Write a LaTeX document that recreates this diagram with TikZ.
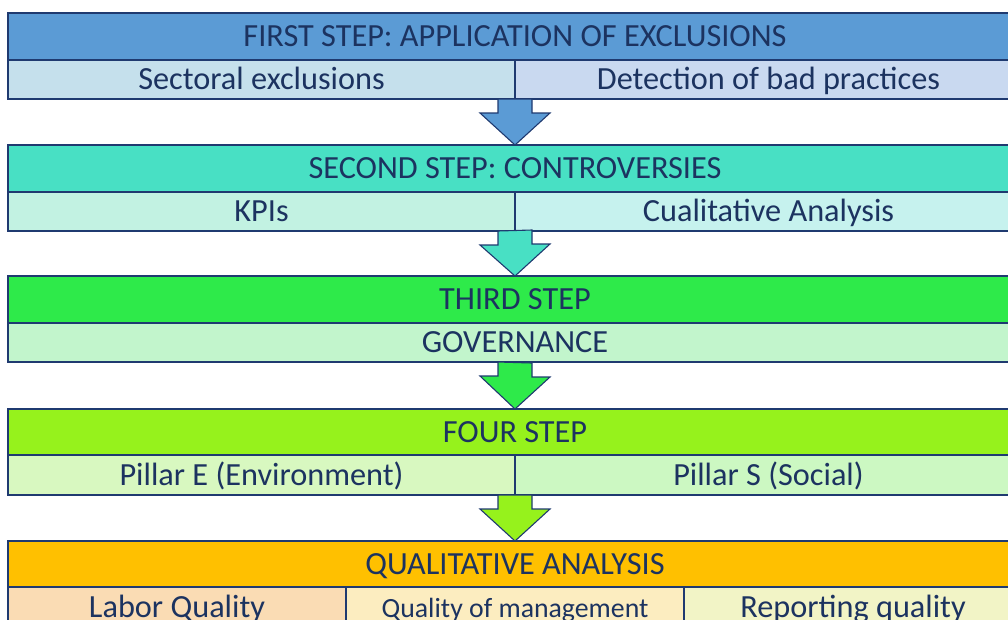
\documentclass[tikz,border=0pt]{standalone}
\usepackage{fontspec}
\setmainfont{Carlito}
\usepackage{tikz}
\usetikzlibrary{positioning, calc}
\definecolor{ink}{HTML}{1C3360}
\definecolor{edge}{HTML}{1F3A70}
\definecolor{blueH}{HTML}{5B9BD5}
\definecolor{blueL}{HTML}{C5E0EC}
\definecolor{blueR}{HTML}{C9D9F0}
\definecolor{turqH}{HTML}{48E0C4}
\definecolor{turqL}{HTML}{C2F2E2}
\definecolor{turqR}{HTML}{C6F2EE}
\definecolor{greenH}{HTML}{2EEA4A}
\definecolor{greenL}{HTML}{C2F5CC}
\definecolor{limeH}{HTML}{96F21C}
\definecolor{limeL}{HTML}{D8F8C0}
\definecolor{limeR}{HTML}{CCF8C2}
\definecolor{goldH}{HTML}{FFC000}
\definecolor{goldL}{HTML}{FADCB4}
\definecolor{goldM}{HTML}{FCEDC0}
\definecolor{goldR}{HTML}{F2F4C6}
\tikzset{
  cell/.style={draw=edge, line width=1.1pt, text=ink, inner sep=0pt, outer sep=0pt, anchor=north west,
    font=\fontsize{32.3}{36}\selectfont, text height=20pt, text depth=0pt},
  header/.style={cell, minimum width=1014pt, minimum height=47pt},
  half/.style={cell, minimum width=507pt, minimum height=39pt},
  third/.style={cell, minimum width=338pt, minimum height=40pt},
  blockarrow/.style={draw=edge, line width=1.1pt, line join=miter}
}

\begin{document}
\begin{tikzpicture}[x=1pt, y=-1pt]
	\useasboundingbox (0,0) rectangle (1008,619);
	\clip (0,0) rectangle (1008,619);
	
	% first step
	\node[header, fill=blueH] (h1) at (8,13) {FIRST STEP: APPLICATION OF EXCLUSIONS};
	\node[half, fill=blueL] (excl) at (h1.south west) {Sectoral exclusions};
	\node[half, fill=blueR] (bad) at (excl.north east) {Detection of bad practices};
	
	% second step
	\node[header, fill=turqH, below=46pt of excl.south west, anchor=north west] (h2) {SECOND STEP: CONTROVERSIES};
	\node[half, fill=turqL] (kpi) at (h2.south west) {KPIs};
	\node[half, fill=turqR] (cual) at (kpi.north east) {Cualitative Analysis};
	
	% third step
	\node[header, fill=greenH, below=45pt of kpi.south west, anchor=north west] (h3) {THIRD STEP};
	\node[header, fill=greenL, minimum height=39pt] (gov) at (h3.south west) {GOVERNANCE};
	
	% four step
	\node[header, fill=limeH, minimum height=46pt, below=47pt of gov.south west, anchor=north west] (h4) {FOUR STEP};
	\node[half, fill=limeL, minimum height=40pt] (pilE) at (h4.south west) {Pillar E (Environment)};
	\node[half, fill=limeR, minimum height=40pt] (pilS) at (pilE.north east) {Pillar S (Social)};
	
	% qualitative analysis
	\node[header, fill=goldH, minimum height=46pt, below=46pt of pilE.south west, anchor=north west] (h5) {QUALITATIVE ANALYSIS};
	\node[third, fill=goldL] (labor) at (h5.south west) {Labor Quality};
	\node[third, fill=goldM, font=\fontsize{27.8}{32}\selectfont] (mgmt) at (labor.north east) {Quality of management};
	\node[third, fill=goldR] (report) at (mgmt.north east) {Reporting quality};
	
	% arrows between the steps
	\foreach \up/\dn/\c in {excl/h2/blueH, kpi/h3/turqH, gov/h4/greenH, pilE/h5/limeH}{
		\coordinate (s) at (\dn.north |- \up.south);
		\draw[blockarrow, fill=\c] ($(s)+(-17,0)$) -- ++(0,14) -- ++(-18,0) -- (\dn.north)
			-- ++(35,-32) -- ++(-18,0) -- ++(0,-14) -- cycle;
	}
\end{tikzpicture}
\end{document}
